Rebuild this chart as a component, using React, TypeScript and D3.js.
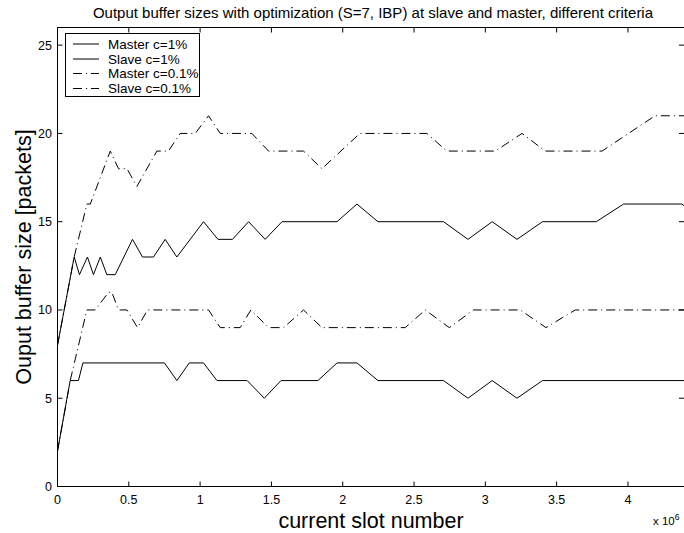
import React from "react";
import * as d3 from "d3";

const title = "Output buffer sizes with optimization (S=7, IBP) at slave and master, different criteria";
const xLabel = "current slot number";
const yLabel = "Ouput buffer size [packets]";
const xTicks = [0, 0.5, 1, 1.5, 2, 2.5, 3, 3.5, 4];
const yTicks = [0, 5, 10, 15, 20, 25];
const seriesNames = ["Master c=1%", "Slave c=1%", "Master c=0.1%", "Slave c=0.1%"];

// x in units of 1e6 slots
const masterC1X = [0, 0.089, 0.147, 0.178, 0.75, 0.837, 0.924, 1.024, 1.118, 1.33, 1.45, 1.567, 1.826, 1.96, 2.1, 2.247, 2.707, 2.878, 3.048, 3.222, 3.401, 4.4];
const masterC1Y = [2, 6, 6, 7, 7, 6, 7, 7, 6, 6, 5, 6, 6, 7, 7, 6, 6, 5, 6, 5, 6, 6];

const slaveC1X = [0, 0.117, 0.154, 0.21, 0.252, 0.3, 0.346, 0.405, 0.526, 0.596, 0.673, 0.755, 0.837, 1.024, 1.125, 1.227, 1.34, 1.456, 1.574, 1.96, 2.1, 2.247, 2.707, 2.878, 3.048, 3.222, 3.401, 3.778, 3.969, 4.378, 4.53];
const slaveC1Y = [8, 13, 12, 13, 12, 13, 12, 12, 14, 13, 13, 14, 13, 15, 14, 14, 15, 14, 15, 15, 16, 15, 15, 14, 15, 14, 15, 15, 16, 16, 15];

const masterC01X = [0, 0.089, 0.206, 0.264, 0.358, 0.381, 0.428, 0.487, 0.561, 0.631, 1.059, 1.141, 1.281, 1.356, 1.48, 1.585, 1.725, 1.854, 2.438, 2.579, 2.747, 2.917, 3.245, 3.425, 3.63, 4.4];
const masterC01Y = [2, 6, 10, 10, 11, 11, 10, 10, 9, 10, 10, 9, 9, 10, 9, 9, 10, 9, 9, 10, 9, 10, 10, 9, 10, 10];

const slaveC01X = [0, 0.117, 0.206, 0.23, 0.37, 0.428, 0.487, 0.557, 0.697, 0.778, 0.86, 0.966, 1.059, 1.141, 1.363, 1.48, 1.725, 1.854, 2.12, 2.59, 2.73, 3.07, 3.257, 3.42, 3.818, 4.19, 4.4];
const slaveC01Y = [8, 13, 16, 16, 19, 18, 18, 17, 19, 19, 20, 20, 21, 20, 20, 19, 19, 18, 20, 20, 19, 19, 20, 19, 19, 21, 21];

const W = 684;
const H = 533;
const left = 57.5;
const right = 685;
const top = 27.5;
const bottom = 486.5;
const FONT = "'Liberation Sans', Arial, Helvetica, sans-serif";
const DASHDOT = "9,4,1,4";

export default function App() {
  const x = d3.scaleLinear().domain([0, 4.4]).range([left, right]);
  const y = d3.scaleLinear().domain([0, 26]).range([bottom, top]);
  const line = d3
    .line<[number, number]>()
    .x((d) => x(d[0]))
    .y((d) => y(d[1]));
  const series = [
    { xs: masterC1X, ys: masterC1Y, dash: undefined },
    { xs: slaveC1X, ys: slaveC1Y, dash: undefined },
    { xs: masterC01X, ys: masterC01Y, dash: DASHDOT },
    { xs: slaveC01X, ys: slaveC01Y, dash: DASHDOT },
  ];
  const tl = 5;
  const legendRows = [44, 59, 73.5, 88.5];
  return (
    <svg
      width={W}
      height={H}
      style={{ position: "absolute", left: 0, top: 0, background: "#fff" }}
      fontFamily={FONT}
    >
      <defs>
        <clipPath id="plotclip">
          <rect x={left} y={top} width={right - left} height={bottom - top} />
        </clipPath>
      </defs>
      <rect x={0} y={0} width={W} height={H} fill="#fff" />
      <text x={373} y={18} textAnchor="middle" fontSize={15}>
        {title}
      </text>
      {/* axes box */}
      <rect x={left} y={top} width={right - left} height={bottom - top} fill="none" stroke="#000" strokeWidth={1} />
      {xTicks.map((t) => (
        <g key={"xt" + t}>
          <line x1={x(t)} x2={x(t)} y1={bottom} y2={bottom - tl} stroke="#000" />
          <line x1={x(t)} x2={x(t)} y1={top} y2={top + tl} stroke="#000" />
          <text x={x(t)} y={503.5} textAnchor="middle" fontSize={12.5}>
            {String(t)}
          </text>
        </g>
      ))}
      {yTicks.map((t) => (
        <g key={"yt" + t}>
          <line x1={left} x2={left + tl} y1={y(t)} y2={y(t)} stroke="#000" />
          <line x1={right} x2={right - tl - 1} y1={y(t)} y2={y(t)} stroke="#000" />
          <text x={52} y={y(t) + 4.5} textAnchor="end" fontSize={12.5}>
            {String(t)}
          </text>
        </g>
      ))}
      <g clipPath="url(#plotclip)">
        {series.map((s, i) => (
          <path
            key={i}
            d={line(s.xs.map((v, j) => [v, s.ys[j]] as [number, number])) || ""}
            fill="none"
            stroke="#000"
            strokeWidth={1}
            strokeDasharray={s.dash}
          />
        ))}
      </g>
      {/* legend */}
      <rect x={65.5} y={33.5} width={134} height={63} fill="#fff" stroke="#000" strokeWidth={1} />
      {seriesNames.map((n, i) => (
        <g key={n}>
          <line
            x1={73}
            x2={99}
            y1={legendRows[i]}
            y2={legendRows[i]}
            stroke="#000"
            strokeWidth={1}
            strokeDasharray={i >= 2 ? DASHDOT : undefined}
          />
          <text x={108} y={legendRows[i] + 4.5} fontSize={13.5}>
            {n}
          </text>
        </g>
      ))}
      <text x={371} y={528} textAnchor="middle" fontSize={21.5}>
        {xLabel}
      </text>
      <text x={653} y={525} fontSize={11.5}>
        x 10
        <tspan fontSize={8.5} dy={-5}>
          6
        </tspan>
      </text>
      <text
        transform={`translate(31, ${(top + bottom) / 2}) rotate(-90)`}
        textAnchor="middle"
        fontSize={21.5}
      >
        {yLabel}
      </text>
    </svg>
  );
}
